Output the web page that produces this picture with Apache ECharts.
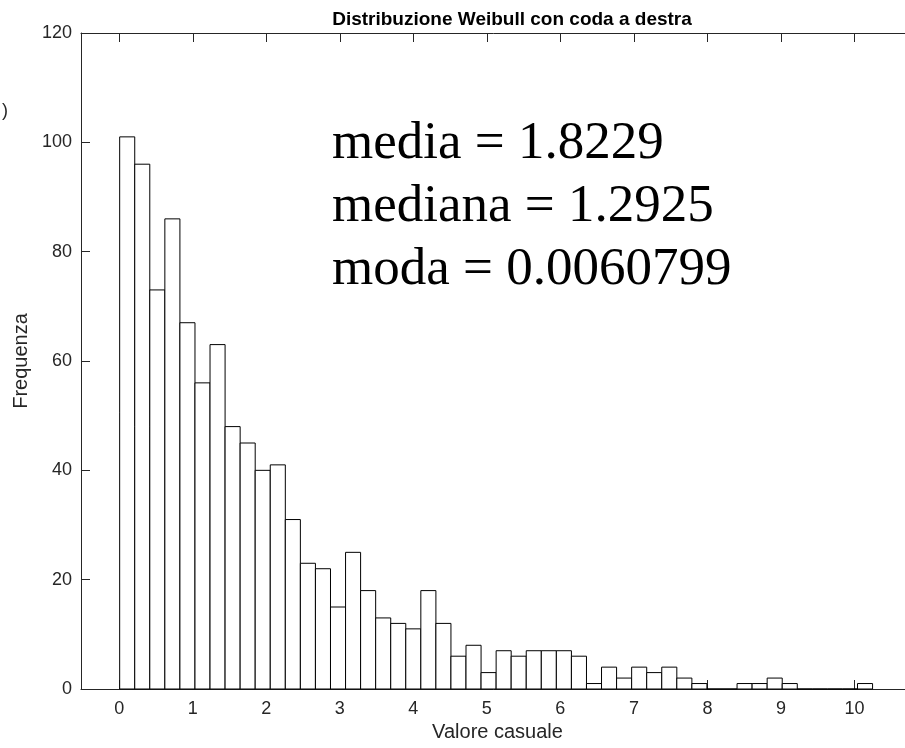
<!DOCTYPE html>
<html>
<head>
<meta charset="utf-8">
<title>Distribuzione Weibull con coda a destra</title>
<script src="https://cdn.jsdelivr.net/npm/echarts@6/dist/echarts.min.js"></script>
<style>
  html, body { margin: 0; padding: 0; background: #fff; }
  #chart { width: 905px; height: 748px; }
</style>
</head>
<body>
<div id="chart"></div>
<script>
// Histogram of 1000 Weibull samples, 50 equal-width bins
const binStart = 0.0061;
const binWidth = 0.2048;
const counts = [
  101, 96, 73, 86, 67, 56, 63, 48, 45, 40,
  41, 31, 23, 22, 15, 25, 18, 13, 12, 11,
  18, 12, 6, 8, 3, 7, 6, 7, 7, 7,
  6, 1, 4, 2, 4, 3, 4, 2, 1, 0,
  0, 1, 1, 2, 1, 0, 0, 0, 0, 1
];
const xTicks = [0, 1, 2, 3, 4, 5, 6, 7, 8, 9, 10];
const xRange = [-0.52, 11];
const yRange = [0, 120];
const statLines = ['media = 1.8229', 'mediana = 1.2925', 'moda = 0.0060799'];

// [left edge, right edge, count] for every bin
const bins = counts.map((c, i) => [binStart + i * binWidth, binStart + (i + 1) * binWidth, c]);

const axisColor = '#262626';
const sans = 'Liberation Sans, Arial, Helvetica, sans-serif';

const chart = echarts.init(document.getElementById('chart'), null, { renderer: 'canvas' });

const xCommon = {
  type: 'value',
  min: xRange[0],
  max: xRange[1],
  axisLine: { show: true, onZero: false, lineStyle: { color: axisColor, width: 1 } },
  axisTick: { show: true, inside: true, length: 9, customValues: xTicks, lineStyle: { color: axisColor } },
  splitLine: { show: false }
};
const yCommon = {
  type: 'value',
  min: yRange[0],
  max: yRange[1],
  interval: 20,
  axisLine: { show: true, onZero: false, lineStyle: { color: axisColor, width: 1 } },
  axisTick: { show: true, inside: true, length: 9, lineStyle: { color: axisColor } },
  splitLine: { show: false }
};

chart.setOption({
  animation: false,
  backgroundColor: '#fff',
  title: {
    text: 'Distribuzione Weibull con coda a destra',
    left: 507,
    top: 5,
    textAlign: 'center',
    textStyle: { fontFamily: sans, fontWeight: 'bold', fontSize: 19, color: '#000' }
  },
  // the plot box runs past the right edge of the canvas
  grid: { left: 81, top: 33, width: 847, height: 656, containLabel: false, outerBoundsMode: 'none' },
  xAxis: [
    Object.assign({}, xCommon, {
      position: 'bottom',
      name: 'Valore casuale',
      nameLocation: 'middle',
      nameGap: 28,
      nameTextStyle: { fontFamily: sans, fontSize: 20, color: '#262626', padding: [0, 14, 0, 0] },
      axisLabel: { show: true, customValues: xTicks, margin: 11, fontFamily: sans, fontSize: 18, color: '#262626' }
    }),
    Object.assign({}, xCommon, { position: 'top', axisLabel: { show: false } })
  ],
  yAxis: [
    Object.assign({}, yCommon, {
      position: 'left',
      name: 'Frequenza',
      nameLocation: 'middle',
      nameGap: 47,
      nameTextStyle: { fontFamily: sans, fontSize: 20, color: '#262626' },
      axisLabel: { show: true, margin: 9, fontFamily: sans, fontSize: 18, color: '#262626' }
    }),
    Object.assign({}, yCommon, { position: 'right', axisLabel: { show: false } })
  ],
  series: [{
    type: 'custom',
    xAxisIndex: 0,
    yAxisIndex: 0,
    data: bins,
    renderItem: function (params, api) {
      const top = api.coord([api.value(0), api.value(2)]);
      const base = api.coord([api.value(1), 0]);
      return {
        type: 'rect',
        shape: { x: top[0], y: top[1], width: base[0] - top[0], height: base[1] - top[1] },
        style: { fill: '#ffffff', stroke: '#000000', lineWidth: 1 }
      };
    }
  }],
  graphic: [
    {
      type: 'text', left: 332, top: 113,
      style: { text: statLines.join('\n'), font: '53px "Liberation Serif", "Times New Roman", serif', lineHeight: 63, fill: '#000' }
    },
    {
      type: 'text', left: 2, top: 102,
      style: { text: ')', font: '18px "Liberation Sans", Arial, sans-serif', fill: '#262626' }
    }
  ]
});
</script>
</body>
</html>
